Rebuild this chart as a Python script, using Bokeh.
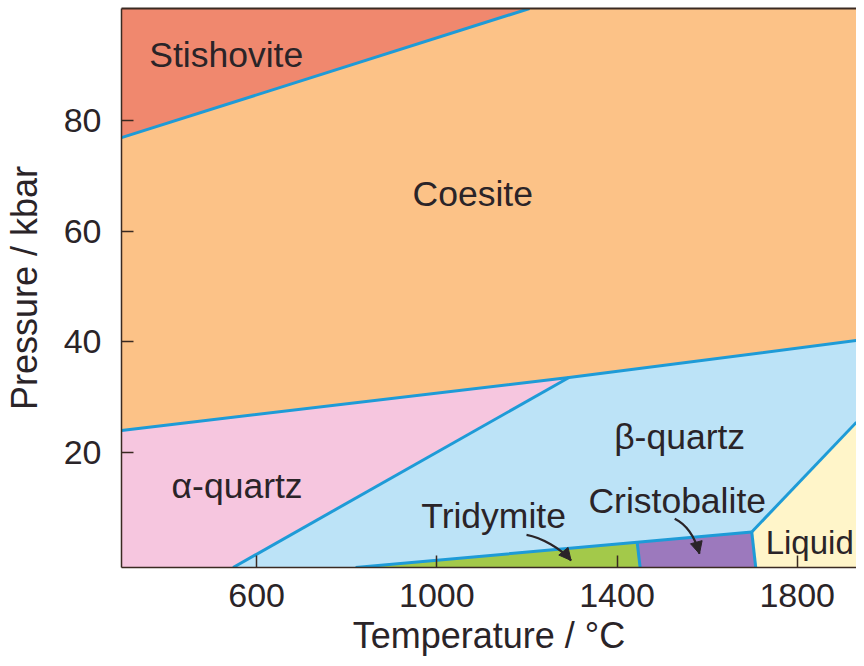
from bokeh.plotting import figure
from bokeh.models import Range1d, FixedTicker, Arrow, NormalHead, LinearAxis
from bokeh.core.properties import value
from bokeh.embed import file_html
from bokeh.resources import INLINE

# ---- axis ranges / ticks (temperature in °C, pressure in kbar) ----
T_RANGE = [300, 1931.6]
P_RANGE = [-0.8, 100.25]
x_ticks = [600, 1000, 1400, 1800]
y_ticks = [20, 40, 60, 80]

# ---- phase boundaries ----
stish_coes_T = [300, 1205.7]
stish_coes_P = [76.9, 100.25]
coes_quartz_T = [300, 1293.4, 1931.6]
coes_quartz_P = [23.97, 33.55, 40.23]
alpha_beta_T = [547.8, 1293.4]
alpha_beta_P = [-0.8, 33.55]
beta_low_T = [819.7, 1444.7, 1699.1]
beta_low_P = [-0.8, 3.76, 5.62]
trid_crist_T = [1451.3, 1444.7]
trid_crist_P = [-0.8, 3.76]
crist_liq_T = [1707.9, 1699.1]
crist_liq_P = [-0.8, 5.62]
liq_beta_T = [1699.1, 1931.6]
liq_beta_P = [5.62, 25.47]

# ---- region labels ----
phase_names = ["Stishovite", "Coesite", "α-quartz", "β-quartz", "Tridymite", "Cristobalite"]
phase_T = [532.5, 1079.6, 556.6, 1539.0, 1126.0, 1533.6]
phase_P = [91.9, 66.8, 14.0, 22.75, 8.6, 11.3]
liquid_name = ["Liquid"]
liquid_T = [1730.0]
liquid_P = [3.77]

# ---- pointer arrows (start, control 1, control 2, end) ----
arrow_T = [[1199.1, 1232.0, 1276.0, 1298.0], [1528.0, 1554.0, 1572.0, 1583.0]]
arrow_P = [[5.11, 4.62, 2.63, 0.47], [8.0, 6.97, 4.98, 1.68]]

colors = {
    "Stishovite": "#f0886e",
    "Coesite": "#fcc287",
    "α-quartz": "#f6c6df",
    "β-quartz": "#bce3f7",
    "Tridymite": "#a3c94a",
    "Cristobalite": "#9c79bd",
    "Liquid": "#fff5c9",
}
BLUE = "#1e9bd7"
DARK = "#3a2a22"
TXT = "#2a2428"
FONT = "Liberation Sans"

t0, t1 = T_RANGE
p0, p1 = P_RANGE

polys = {
    "Stishovite": ([stish_coes_T[0], stish_coes_T[1], t0], [stish_coes_P[0], stish_coes_P[1], p1]),
    "Coesite": (
        coes_quartz_T + [t1, stish_coes_T[1], stish_coes_T[0]],
        coes_quartz_P + [p1, stish_coes_P[1], stish_coes_P[0]],
    ),
    "α-quartz": (
        [t0, alpha_beta_T[0], alpha_beta_T[1], coes_quartz_T[0]],
        [p0, alpha_beta_P[0], alpha_beta_P[1], coes_quartz_P[0]],
    ),
    "β-quartz": (
        [alpha_beta_T[0]] + beta_low_T + [liq_beta_T[1], coes_quartz_T[2], coes_quartz_T[1]],
        [alpha_beta_P[0]] + beta_low_P + [liq_beta_P[1], coes_quartz_P[2], coes_quartz_P[1]],
    ),
    "Tridymite": (
        [beta_low_T[0], trid_crist_T[0], trid_crist_T[1]],
        [beta_low_P[0], trid_crist_P[0], trid_crist_P[1]],
    ),
    "Cristobalite": (
        [trid_crist_T[0], crist_liq_T[0], crist_liq_T[1], trid_crist_T[1]],
        [trid_crist_P[0], crist_liq_P[0], crist_liq_P[1], trid_crist_P[1]],
    ),
    "Liquid": (
        [crist_liq_T[0], t1, liq_beta_T[1], liq_beta_T[0]],
        [crist_liq_P[0], p0, liq_beta_P[1], liq_beta_P[0]],
    ),
}

p = figure(
    width=856, height=658,
    x_range=Range1d(t0, t1), y_range=Range1d(p0, p1),
    output_backend="svg", toolbar_location=None,
    min_border_left=120, min_border_right=0, min_border_top=8, min_border_bottom=91,
)
p.grid.visible = False
p.outline_line_color = None
p.background_fill_color = "white"
p.border_fill_color = "white"

names = list(polys.keys())
p.patches(
    xs=[polys[n][0] for n in names], ys=[polys[n][1] for n in names],
    fill_color=[colors[n] for n in names], line_color=None,
)

for bx, by in [
    (stish_coes_T, stish_coes_P), (coes_quartz_T, coes_quartz_P), (alpha_beta_T, alpha_beta_P),
    (beta_low_T, beta_low_P), (trid_crist_T, trid_crist_P), (crist_liq_T, crist_liq_P),
    (liq_beta_T, liq_beta_P),
]:
    p.line(bx, by, line_color=BLUE, line_width=3, line_join="round")

p.text(phase_T, phase_P, text=phase_names, text_font=value(FONT), text_font_size="35.5px",
       text_align="center", text_baseline="middle", text_color=TXT)
p.text(liquid_T, liquid_P, text=liquid_name, text_font=value(FONT), text_font_size="33px",
       text_align="left", text_baseline="middle", text_color=TXT)

for ax, ay in zip(arrow_T, arrow_P):
    p.bezier(x0=[ax[0]], y0=[ay[0]], cx0=[ax[1]], cy0=[ay[1]], cx1=[ax[2]], cy1=[ay[2]],
             x1=[ax[3]], y1=[ay[3]], line_color=TXT, line_width=2.2)
    p.add_layout(Arrow(end=NormalHead(size=12, fill_color=TXT, line_color=TXT, line_width=1),
                       x_start=ax[2], y_start=ay[2], x_end=ax[3], y_end=ay[3],
                       line_alpha=0))

xax = p.below[0]
yax = p.left[0]
for axis in (xax, yax):
    axis.major_tick_in = 12
    axis.major_tick_out = 0
    axis.minor_tick_in = 0
    axis.minor_tick_out = 0
    axis.major_tick_line_color = DARK
    axis.major_tick_line_width = 1.5
    axis.axis_line_color = DARK
    axis.axis_line_width = 1.5
    axis.major_label_text_font = FONT
    axis.major_label_text_font_size = "34px"
    axis.major_label_text_color = TXT
    axis.axis_label_text_font = FONT
    axis.axis_label_text_font_size = "36px"
    axis.axis_label_text_font_style = "normal"
    axis.axis_label_text_color = TXT

xax.ticker = FixedTicker(ticks=x_ticks)
yax.ticker = FixedTicker(ticks=y_ticks)
xax.axis_label = "Temperature / °C"
yax.axis_label = "Pressure / kbar"
xax.major_label_standoff = 16
xax.axis_label_standoff = 5
yax.major_label_standoff = 20
yax.axis_label_standoff = 16

# top frame line (a bare axis with no ticks or labels)
top = LinearAxis(ticker=FixedTicker(ticks=[]), major_label_text_font_size="0px",
                 major_tick_in=0, major_tick_out=0, minor_tick_in=0, minor_tick_out=0,
                 major_label_standoff=0, axis_line_color=DARK, axis_line_width=2)
p.add_layout(top, "above")

open("out.html", "w").write(file_html(p, INLINE))
